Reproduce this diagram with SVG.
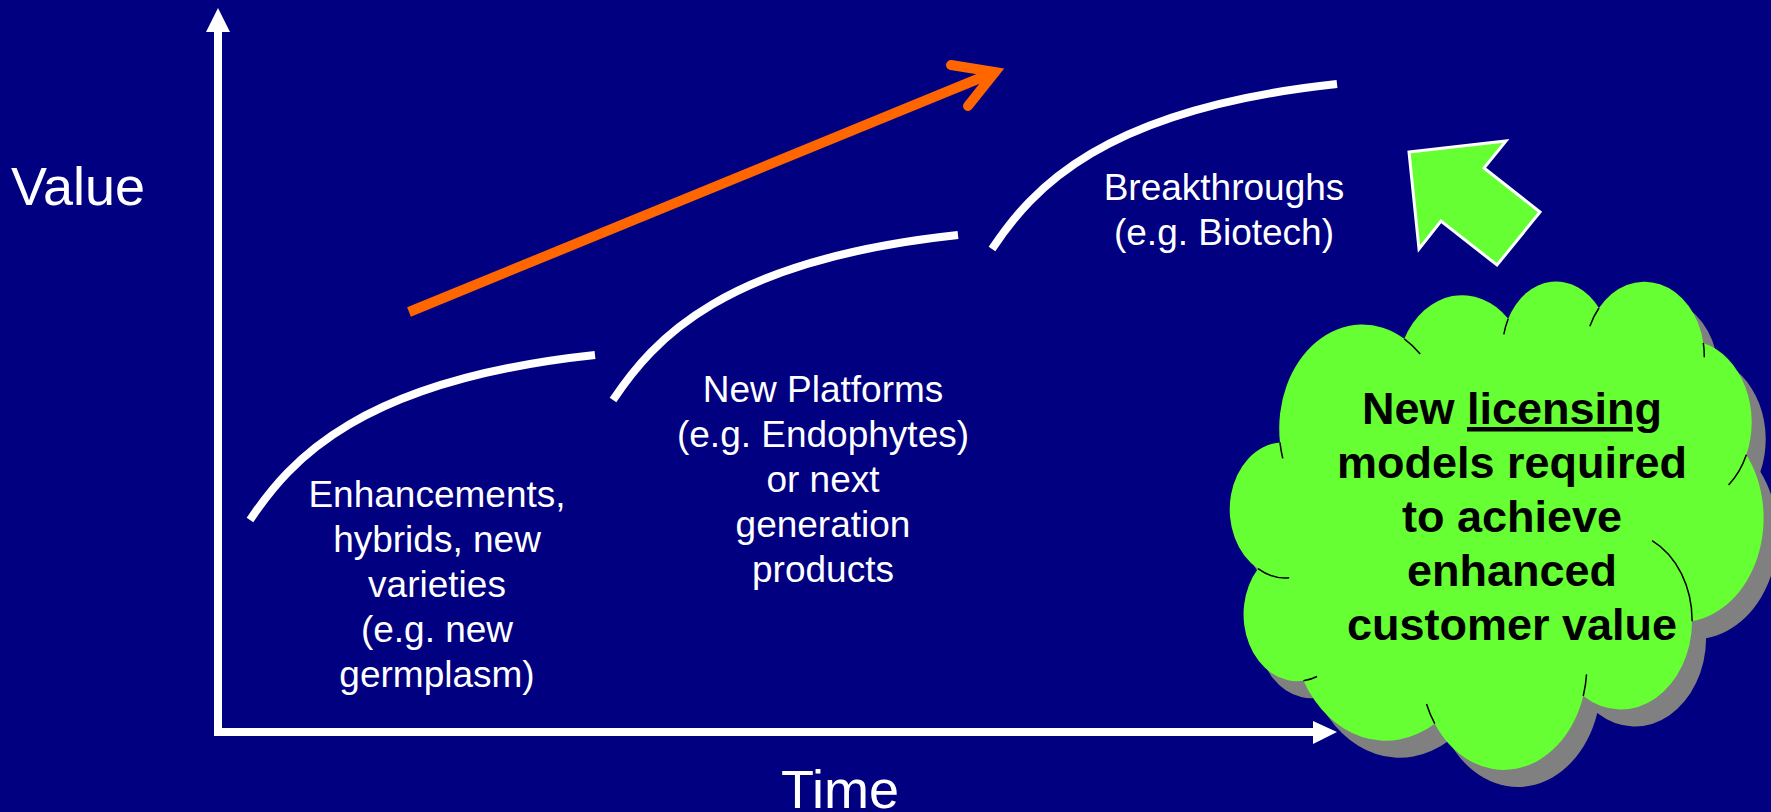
<svg xmlns="http://www.w3.org/2000/svg" width="1771" height="812" viewBox="0 0 1771 812">
<style>
.lbl{font-family:"Liberation Sans",Arial,sans-serif;fill:#fff;text-anchor:middle;font-size:37px}
.ax{font-family:"Liberation Sans",Arial,sans-serif;fill:#fff;font-size:54px}
.cl{font-family:"Liberation Sans",Arial,sans-serif;fill:#000;text-anchor:middle;font-size:45px;font-weight:bold}
.curve{fill:none;stroke:#fff;stroke-width:8}
.cloudline{stroke:#000;stroke-width:1.5;vector-effect:non-scaling-stroke}
</style>
<defs>
<path id="cloudShape" d="M3900,14370 A6753,9190 0 0 1 14006,5203 A5333,7267 0 0 1 22457,3429 A4365,5945 0 0 1 29834,2478 A4857,6595 0 0 1 38320,5573 A5333,7273 0 0 1 41820,15457 A6775,9220 0 0 1 37406,30199 A5785,7867 0 0 1 28558,36810 A6752,9215 0 0 1 16484,39264 A7720,10543 0 0 1 5806,35469 A4360,5918 0 0 1 2114,25550 A4345,5945 0 0 1 3900,14370 Z"/>
</defs>
<rect x="0" y="0" width="1771" height="812" fill="#000080"/>

<g id="axes">
<line x1="218" y1="736" x2="218" y2="30" stroke="#fff" stroke-width="8"/>
<polygon points="218,8 230,32 206,32" fill="#fff"/>
<line x1="214" y1="732" x2="1315" y2="732" stroke="#fff" stroke-width="8"/>
<polygon points="1337,732 1313,721 1313,744" fill="#fff"/>
<text class="ax" x="11" y="205">Value</text>
<text class="ax" x="840" y="808" text-anchor="middle">Time</text>
</g>

<g id="connectors">
<path class="curve" d="M250,520 C290,460 360,380 595,355"/>
<path class="curve" d="M613,400 C653,340 723,260 958,235"/>
<path class="curve" d="M992,249 C1032,189 1102,109 1337,84"/>
<line x1="409" y1="312" x2="990" y2="74" stroke="#FF6600" stroke-width="10"/>
<polyline points="951,65 995,72 968,106" fill="none" stroke="#FF6600" stroke-width="10" stroke-linecap="round" stroke-linejoin="miter"/>
</g>

<g id="stage1">
<text class="lbl" x="437" y="507">Enhancements,</text>
<text class="lbl" x="437" y="552">hybrids, new</text>
<text class="lbl" x="437" y="597">varieties</text>
<text class="lbl" x="437" y="642">(e.g. new</text>
<text class="lbl" x="437" y="687">germplasm)</text>
</g>

<g id="stage2">
<text class="lbl" x="823" y="402">New Platforms</text>
<text class="lbl" x="823" y="447">(e.g. Endophytes)</text>
<text class="lbl" x="823" y="492">or next</text>
<text class="lbl" x="823" y="537">generation</text>
<text class="lbl" x="823" y="582">products</text>
</g>

<g id="stage3">
<text class="lbl" x="1224" y="200">Breakthroughs</text>
<text class="lbl" x="1224" y="245">(e.g. Biotech)</text>
</g>

<g id="greenArrow">
<polygon points="1409,152 1506,141 1484,168 1540,212 1497,265 1441,221 1419,249" fill="#66FF33" stroke="#fff" stroke-width="3" stroke-linejoin="miter"/>
</g>

<g id="cloud">
<g transform="translate(1246,297) scale(0.0123,0.0113)">
<use href="#cloudShape" fill="#808080"/>
</g>
<g transform="translate(1232,280) scale(0.0123,0.0113)">
<use href="#cloudShape" fill="#66FF33" class="cloudline"/>
<path class="cloudline" fill="none" d="M4647,26347 A4345,5945 0 0 1 2114,25550 M6916,35088 A4360,5918 0 0 1 5806,35469 M16484,39264 A6752,9215 0 0 1 15815,37521 M28825,34901 A6752,9215 0 0 1 28558,36810 M34154,23063 A5785,7867 0 0 1 37406,30199 M41820,15457 A5333,7273 0 0 1 40370,18135 M38320,5573 A4857,6595 0 0 1 38396,6836 M29093,4090 A4857,6595 0 0 1 29834,2478 M22098,4819 A4365,5945 0 0 1 22457,3429 M14006,5203 A6753,9190 0 0 1 15303,6548 M4126,15787 A6753,9190 0 0 1 3900,14370"/>
</g>
<text class="cl" x="1512" y="424">New <tspan text-decoration="underline">licensing</tspan></text>
<text class="cl" x="1512" y="478">models required</text>
<text class="cl" x="1512" y="532">to achieve</text>
<text class="cl" x="1512" y="586">enhanced</text>
<text class="cl" x="1512" y="640">customer value</text>
</g>
</svg>
